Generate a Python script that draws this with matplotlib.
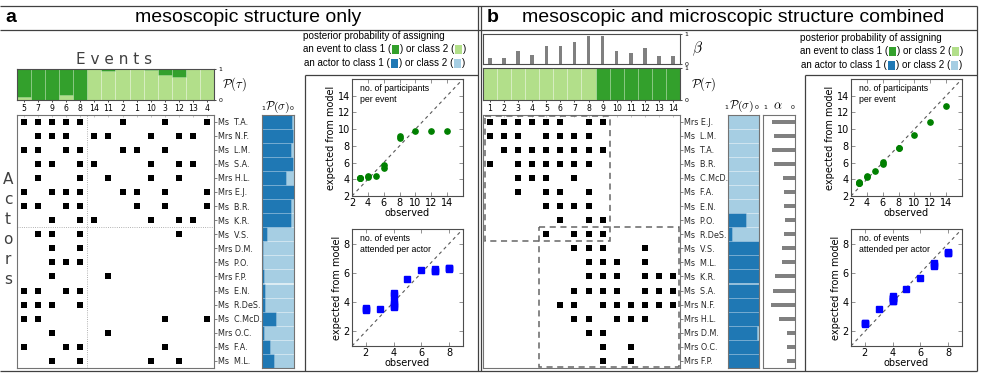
import matplotlib
matplotlib.use("Agg")
import matplotlib.pyplot as plt
from matplotlib.patches import Rectangle
import numpy as np

plt.rcParams['mathtext.fontset'] = 'cm'
plt.rcParams['font.family'] = ['DejaVu Sans']

W, H = 987, 378
SANS = 'Liberation Sans'
DG, LG = '#33a02c', '#b2df8a'
DB, LB = '#1f78b4', '#a6cee3'
LINE = '0.25'

# ---------------- data ----------------
actors = ["E.J.", "L.M.", "T.A.", "B.R.", "C.McD.", "F.A.", "E.N.", "P.O.", "R.DeS.",
          "V.S.", "M.L.", "K.R.", "S.A.", "N.F.", "H.L.", "D.M.", "O.C.", "F.P."]
honorifics = ["Mrs", "Ms", "Ms", "Ms", "Ms", "Ms", "Ms", "Ms", "Ms",
              "Ms", "Ms", "Ms", "Ms", "Mrs", "Mrs", "Mrs", "Mrs", "Mrs"]
attended = [
    [1, 2, 3, 4, 5, 6, 8, 9],
    [1, 2, 3, 5, 6, 7, 8],
    [2, 3, 4, 5, 6, 7, 8, 9],
    [1, 3, 4, 5, 6, 7, 8],
    [3, 4, 5, 7],
    [3, 5, 6, 8],
    [5, 6, 7, 8],
    [6, 8, 9],
    [5, 7, 8, 9],
    [7, 8, 9, 12],
    [8, 9, 10, 12],
    [8, 9, 10, 12, 13, 14],
    [7, 8, 9, 10, 12, 13, 14],
    [6, 7, 9, 10, 11, 12, 13, 14],
    [7, 8, 10, 11, 12],
    [8, 9],
    [9, 11],
    [9, 11],
]
events = [1, 2, 3, 4, 5, 6, 7, 8, 9, 10, 11, 12, 13, 14]

# panel a (mesoscopic only)
actor_order_a = ["T.A.", "N.F.", "L.M.", "S.A.", "H.L.", "E.J.", "B.R.", "K.R.", "V.S.",
                 "D.M.", "P.O.", "F.P.", "E.N.", "R.DeS.", "C.McD.", "O.C.", "F.A.", "M.L."]
event_order_a = [5, 7, 9, 6, 8, 14, 11, 2, 1, 10, 3, 12, 13, 4]
p_tau_a = [0.90, 1.0, 1.0, 0.84, 1.0, 0.0, 0.05, 0.0, 0.0, 0.03, 0.20, 0.26, 0.0, 0.0]
p_sigma_a = [0.95, 0.98, 0.92, 0.96, 0.74, 1.0, 0.90, 0.90, 0.17,
             0.03, 0.04, 0.06, 0.10, 0.08, 0.43, 0.07, 0.24, 0.38]
exp_event_a = [4.1, 4.1, 5.4, 4.25, 9.0, 9.2, 9.75, 9.75, 9.75, 4.4, 4.4, 5.65, 4.1, 4.1]
exp_actor_a = [6.3, 6.15, 6.25, 6.1, 4.65, 4.1, 3.75, 3.55, 3.7,
               3.9, 4.5, 6.2, 6.25, 6.3, 5.6, 3.45, 3.55, 3.6]

# panel b (mesoscopic and microscopic combined)
actor_order_b = actors
event_order_b = events
beta_b = [0.2, 0.2, 0.45, 0.3, 0.6, 0.6, 0.75, 0.95, 0.93, 0.45, 0.36, 0.55, 0.28, 0.28]
p_tau_b = [0, 0, 0, 0, 0, 0, 0, 0, 1, 1, 1, 1, 1, 1]
p_sigma_b = [0, 0, 0, 0, 0, 0, 0, 0.58, 0.12, 1, 1, 1, 1, 1, 1, 0.95, 1, 1]
alpha_b = [0.73, 0.65, 0.73, 0.65, 0.37, 0.35, 0.35, 0.32, 0.35,
           0.42, 0.42, 0.61, 0.68, 0.76, 0.5, 0.24, 0.24, 0.24]
exp_event_b = [3.5, 3.55, 5.85, 4.3, 7.7, 7.75, 9.35, 12.8, 10.8, 5.05, 4.45, 6.05, 3.6, 3.65]
exp_actor_b = [7.35, 6.45, 7.35, 6.55, 4.05, 4.1, 4.2, 3.5, 4.25,
               4.3, 4.4, 5.65, 6.65, 7.4, 4.9, 2.5, 2.55, 2.6]
blocks_b = [((1, 9), (0, 8)), ((5, 14), (8, 17))]   # (event range, actor-row range)

observed_event = [sum(e in a for a in attended) for e in events]
observed_actor = [len(a) for a in attended]

# ---------------- figure ----------------
fig = plt.figure(figsize=(W / 100, H / 100), dpi=100)


def axpx(x0, y0, x1, y1, **kw):
    return fig.add_axes([x0 / W, 1 - y1 / H, (x1 - x0) / W, (y1 - y0) / H], **kw)


def style_spines(ax, c='0.35', lw=0.8):
    for s in ax.spines.values():
        s.set_color(c)
        s.set_linewidth(lw)


ov = fig.add_axes([0, 0, 1, 1], zorder=5)
ov.set_xlim(0, W)
ov.set_ylim(H, 0)
ov.axis('off')
ov.patch.set_visible(False)


def label(a):
    return f"{honorifics[actors.index(a)]:<3} {a}"


def matrix_panel(rect, actor_order, event_order):
    ax = axpx(*rect)
    rows, cols = [], []
    for i, a in enumerate(actor_order):
        for e in attended[actors.index(a)]:
            rows.append(i)
            cols.append(event_order.index(e))
    ax.plot(cols, rows, 's', color='k', ms=3.9, mew=0)
    ax.set_xlim(-0.5, len(event_order) - 0.5)
    ax.set_ylim(len(actor_order) - 0.5, -0.5)
    ax.set_xticks(range(len(event_order)))
    ax.set_xticklabels([])
    ax.tick_params(axis='x', top=True, bottom=False, direction='in', length=1.5,
                   width=0.4, color='0.6')
    ax.yaxis.tick_right()
    ax.set_yticks(range(len(actor_order)))
    ax.set_yticklabels([label(a) for a in actor_order], fontsize=5.8, color='0.15')
    ax.tick_params(axis='y', length=2, width=0.5, pad=1, color='0.3')
    style_spines(ax, '0.45')
    return ax


def tau_panel(rect, p1, event_order):
    ax = axpx(*rect)
    x = np.arange(len(p1))
    p1 = np.array(p1, float)
    ax.bar(x, np.ones(len(x)), width=1, color=LG, edgecolor=(1, 1, 1, 0.35), lw=0.5)
    m = p1 > 0
    ax.bar(x[m], p1[m], bottom=1 - p1[m], width=1, color=DG, edgecolor=(1, 1, 1, 0.3), lw=0.5)
    ax.set_xlim(-0.5, len(x) - 0.5)
    ax.set_ylim(0, 1)
    ax.set_xticks(x)
    ax.set_xticklabels([str(e) for e in event_order], fontsize=5.6)
    ax.tick_params(axis='x', length=1.5, width=0.5, pad=1.5)
    ax.yaxis.tick_right()
    ax.set_yticks([0, 1])
    ax.tick_params(axis='y', labelsize=4.5, length=1.5, width=0.5, pad=1.5)
    style_spines(ax, '0.3')
    return ax


def sigma_panel(rect, p1):
    ax = axpx(*rect)
    y = np.arange(len(p1))
    p1 = np.array(p1, float)
    ax.barh(y, np.ones(len(y)), height=1, color=LB, edgecolor=(1, 1, 1, 0.35), lw=0.5)
    m = p1 > 0
    ax.barh(y[m], p1[m], left=1 - p1[m], height=1, color=DB, edgecolor=(1, 1, 1, 0.25), lw=0.5)
    ax.set_xlim(1, 0)
    ax.set_ylim(len(y) - 0.5, -0.5)
    ax.set_xticks([])
    ax.set_yticks([])
    style_spines(ax, '0.45')
    return ax


def scatter_panel(rect, x, y, marker, color, lim, ticks, text):
    ax = axpx(*rect)
    ax.plot(lim, lim, ls='--', color='0.35', lw=0.8, dashes=(3, 3))
    ax.plot(x, y, ls='none', marker=marker, color=color, mec=color, ms=3.8)
    ax.set_xlim(*lim)
    ax.set_ylim(*lim)
    ax.set_xticks(ticks)
    ax.set_yticks(ticks)
    ax.tick_params(direction='in', top=True, right=True, labelsize=7, length=3,
                   width=0.5, color='0.4', pad=1.5)
    style_spines(ax, '0.3')
    ax.set_xlabel('observed', fontsize=7, labelpad=0)
    ax.set_ylabel('expected from model', fontsize=7, labelpad=1)
    ax.text(0.07, 0.96, text, transform=ax.transAxes, fontsize=6.3, va='top', ha='left',
            family=SANS, linespacing=1.3)
    return ax


# ---- panel a ----
ax_ma = matrix_panel((17, 114.5, 214, 368), actor_order_a, event_order_a)
ax_ma.axvline(4.5, color='0.6', lw=0.6, ls=':')
ax_ma.axhline(7.5, color='0.6', lw=0.6, ls=':')
tau_panel((17, 69, 214, 100), p_tau_a, event_order_a)
sigma_panel((262, 114.5, 294, 368), p_sigma_a)

scatter_panel((352, 79, 463, 196), observed_event, exp_event_a, 'o', 'g', (2, 16),
              [2, 4, 6, 8, 10, 12, 14], 'no. of participants\nper event')
scatter_panel((352, 229, 463, 346), observed_actor, exp_actor_a, 's', 'b', (1, 9),
              [2, 4, 6, 8], 'no. of events\nattended per actor')

# ---- panel b ----
ax_mb = matrix_panel((483, 114.5, 680, 368), actor_order_b, event_order_b)
for (e0, e1), (r0, r1) in blocks_b:
    x0 = event_order_b.index(e0) - 0.5
    x1 = event_order_b.index(e1) + 0.5
    y0, y1 = r0 - 0.5, r1 + 0.5
    x0 = max(x0, -0.35); y0 = max(y0, -0.42)
    x1 = min(x1, len(event_order_b) - 0.55); y1 = min(y1, len(actor_order_b) - 0.58)
    ax_mb.add_patch(Rectangle((x0, y0), x1 - x0, y1 - y0, fill=False, ec='0.4',
                              lw=1.1, ls=(0, (4, 3)), clip_on=False, zorder=3))
tau_panel((483, 68, 680, 100), p_tau_b, event_order_b)
ax_beta = axpx(483, 34, 680, 64)
ax_beta.bar(np.arange(len(beta_b)), beta_b, width=0.25, color='0.5')
ax_beta.set_xlim(-0.5, len(beta_b) - 0.5)
ax_beta.set_ylim(0, 1)
ax_beta.set_xticks([])
ax_beta.yaxis.tick_right()
ax_beta.set_yticks([0, 1])
ax_beta.tick_params(axis='y', labelsize=4.5, length=1.5, width=0.5, pad=1.5)
style_spines(ax_beta, '0.3')

sigma_panel((728, 114.5, 759, 368), p_sigma_b)
ax_al = axpx(763, 114.5, 795, 368)
ax_al.barh(np.arange(len(alpha_b)), alpha_b, height=0.28, color='0.5')
ax_al.set_xlim(1, 0)
ax_al.set_ylim(len(alpha_b) - 0.5, -0.5)
ax_al.set_xticks([])
ax_al.set_yticks([])
style_spines(ax_al, '0.45')

scatter_panel((851, 79, 962, 196), observed_event, exp_event_b, 'o', 'g', (2, 16),
              [2, 4, 6, 8, 10, 12, 14], 'no. of participants\nper event')
scatter_panel((851, 229, 962, 346), observed_actor, exp_actor_b, 's', 'b', (1, 9),
              [2, 4, 6, 8], 'no. of events\nattended per actor')

# ---- frames ----
segs = [((0, 977), (6, 6)), ((0, 977), (30, 30)), ((0, 977), (371, 371)),
        ((477.5, 477.5), (6, 371)), ((480.5, 480.5), (6, 371)), ((977, 977), (6, 371)),
        ((305, 305), (75, 371)), ((305, 478), (75, 75)),
        ((805, 805), (75, 371)), ((805, 977), (75, 75))]
for xs, ys in segs:
    ov.plot(xs, ys, color=LINE, lw=0.9, solid_capstyle='butt')

# ---- titles ----
ov.text(11, 18, 'a', fontsize=14, fontweight='bold', family=SANS, ha='center', va='center')
ov.text(248, 18, 'mesoscopic structure only', fontsize=14, family=SANS,
        ha='center', va='center')
ov.text(493, 18, 'b', fontsize=14, fontweight='bold', family=SANS, ha='center', va='center')
ov.text(733, 18, 'mesoscopic and microscopic structure combined', fontsize=14,
        family=SANS, ha='center', va='center')

ov.text(114, 59, 'E v e n t s', fontsize=11, color='0.25', ha='center', va='center')
for k, ch in enumerate('Actors'):
    ov.text(8, 180 + 20 * k, ch, fontsize=11, color='0.25', ha='center', va='center')

# math labels
ov.text(234, 84, r'$\mathcal{P}(\tau)$', fontsize=9, ha='center', va='center')
ov.text(703, 84, r'$\mathcal{P}(\tau)$', fontsize=9, ha='center', va='center')
ov.text(697, 49, r'$\beta$', fontsize=11, ha='center', va='center')
for (x1, xp, x0, y) in [(263, 278, 292, 110), (726, 742, 757, 109)]:
    ov.text(x1, y, '1', fontsize=4.5, ha='center', va='baseline')
    ov.text(xp, y, r'$\mathcal{P}(\sigma)$', fontsize=8.5, ha='center', va='baseline')
    ov.text(x0, y, '0', fontsize=4.5, ha='center', va='baseline')
ov.text(765, 109, '1', fontsize=4.5, ha='center', va='baseline')
ov.text(778, 109, r'$\alpha$', fontsize=9, ha='center', va='baseline')
ov.text(793, 109, '0', fontsize=4.5, ha='center', va='baseline')

# ---- legends (rich text) ----
fig.canvas.draw()
rend = fig.canvas.get_renderer()


def rich(x, y, parts, fs=7.1):
    cx = x
    for p in parts:
        if isinstance(p, tuple):
            ov.add_patch(Rectangle((cx + 0.8, y - 4.5), 7, 9, color=p[0], lw=0))
            cx += 8.8
        else:
            t = ov.text(cx, y, p, fontsize=fs, family=SANS, ha='left', va='center')
            cx += t.get_window_extent(renderer=rend).width


for lx, ly in [(303, 36), (800, 38)]:
    rich(lx, ly, ['posterior probability of assigning'])
    rich(lx, ly + 13, ['an event to class 1 (', (DG,), ') or class 2 (', (LG,), ')'])
    rich(lx + 1, ly + 27, ['an actor to class 1 (', (DB,), ') or class 2 (', (LB,), ')'])

fig.savefig('out.png', dpi=100)
